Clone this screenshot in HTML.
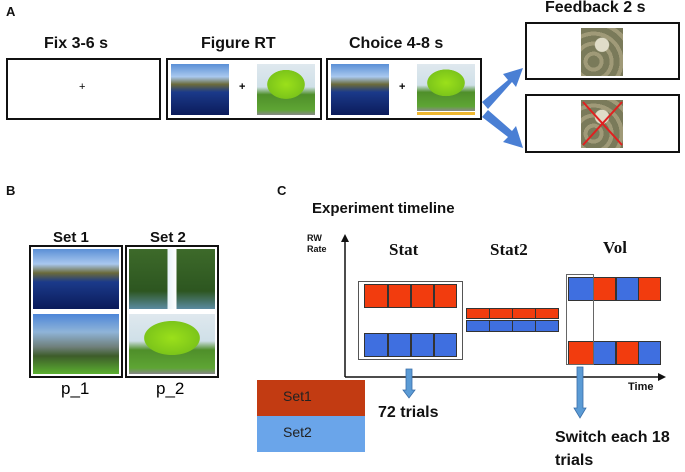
<!DOCTYPE html>
<html><head><meta charset="utf-8"><style>
body{margin:0;width:685px;height:469px;background:#fff;position:relative;overflow:hidden;font-family:"Liberation Sans",sans-serif}
div,span{position:absolute;box-sizing:border-box}
.t{font-weight:bold;color:#111;white-space:nowrap}
.box{border:2px solid #111;background:#fff}
.lake{background:linear-gradient(180deg,#5a8fd6 0%,#a9c8ee 25%,#6b6a3a 40%,#1b3a8a 55%,#0b1b5a 100%)}
.tree{background:radial-gradient(ellipse 40% 35% at 50% 40%,#9be01a 0%,#7cc51a 80%,transparent 82%),linear-gradient(180deg,#dfe8ee 0%,#cfe0e8 45%,#4f8f2a 60%,#5ea534 90%,#888 100%)}
.fall{background:linear-gradient(90deg,transparent 45%,#e8f2f8 45%,#fff 55%,transparent 55%),linear-gradient(180deg,#3d6a2a,#2d5620 70%,#5b8aa0 100%)}
.valley{background:linear-gradient(180deg,#4d86d8 0%,#8fb4d8 30%,#6f7f7a 55%,#3d5c2a 70%,#5bb030 100%)}
.coin{background:radial-gradient(circle at 50% 35%,#e0dcc8 0 18%,transparent 20%),repeating-radial-gradient(circle at 30% 70%,#7a7a5a 0 6px,#a09a78 6px 10px)}
.r{background:#f23c0e;border:1px solid #333}
.b{background:#3f6fe0;border:1px solid #333}
</style></head><body>
<div class="t" style="left:6px;top:4px;font-size:13px">A</div>
<div class="t" style="left:44px;top:35px;font-size:16px">Fix 3-6 s</div>
<div class="t" style="left:201px;top:35px;font-size:16px">Figure RT</div>
<div class="t" style="left:349px;top:35px;font-size:16px">Choice 4-8 s</div>
<div class="t" style="left:545px;top:-1px;font-size:16px">Feedback 2 s</div>
<div class="box" style="left:6px;top:58px;width:155px;height:62px"></div>
<div style="left:79px;top:81px;font-size:11px">+</div>
<div class="box" style="left:166px;top:58px;width:156px;height:62px"></div>
<div class="lake" style="left:171px;top:64px;width:58px;height:51px"></div>
<div style="left:239px;top:81px;font-size:11px;font-weight:bold">+</div>
<div class="tree" style="left:257px;top:64px;width:58px;height:51px"></div>
<div class="box" style="left:326px;top:58px;width:156px;height:62px"></div>
<div class="lake" style="left:331px;top:64px;width:58px;height:51px"></div>
<div style="left:399px;top:81px;font-size:11px;font-weight:bold">+</div>
<div class="tree" style="left:417px;top:64px;width:58px;height:47px"></div>
<div style="left:417px;top:112px;width:58px;height:3px;background:#f0b830"></div>
<div class="box" style="left:525px;top:22px;width:155px;height:58px"></div>
<div class="coin" style="left:581px;top:28px;width:42px;height:48px"></div>
<div class="box" style="left:525px;top:94px;width:155px;height:59px"></div>
<div class="coin" style="left:581px;top:100px;width:42px;height:48px"></div>
<svg style="position:absolute;left:0;top:0" width="685" height="469">
<line x1="583" y1="102" x2="622" y2="145" stroke="#e02020" stroke-width="2"/>
<line x1="622" y1="102" x2="583" y2="145" stroke="#e02020" stroke-width="2"/>
<polygon points="482,102 508,80 503,74 523,68 516,87 512,82 488,109" fill="#4a7fd4"/>
<polygon points="482,117 488,110 512,131 516,126 523,148 503,142 508,137" fill="#4a7fd4"/>
<line x1="345" y1="377" x2="345" y2="240" stroke="#111" stroke-width="1.5"/>
<polygon points="341,242 345,234 349,242" fill="#111"/>
<line x1="345" y1="377" x2="660" y2="377" stroke="#111" stroke-width="1.5"/>
<polygon points="658,373 666,377 658,381" fill="#111"/>
<polygon points="406,369 412,369 412,390 415,390 409,398 403,390 406,390" fill="#5b9bd5" stroke="#3a6ea8" stroke-width="0.8"/>
<polygon points="577,367 583,367 583,408 586,408 580,418 574,408 577,408" fill="#5b9bd5" stroke="#3a6ea8" stroke-width="0.8"/>
</svg>
<div class="t" style="left:6px;top:183px;font-size:13px">B</div>
<div class="t" style="left:53px;top:229px;font-size:15px">Set 1</div>
<div class="t" style="left:150px;top:229px;font-size:15px">Set 2</div>
<div class="box" style="left:29px;top:245px;width:94px;height:133px"></div>
<div class="box" style="left:125px;top:245px;width:94px;height:133px"></div>
<div class="lake" style="left:33px;top:249px;width:86px;height:60px"></div>
<div class="valley" style="left:33px;top:314px;width:86px;height:60px"></div>
<div class="fall" style="left:129px;top:249px;width:86px;height:60px"></div>
<div class="tree" style="left:129px;top:314px;width:86px;height:60px"></div>
<div style="left:61px;top:379px;font-size:17px">p_1</div>
<div style="left:156px;top:379px;font-size:17px">p_2</div>
<div class="t" style="left:277px;top:183px;font-size:13px">C</div>
<div class="t" style="left:312px;top:200px;font-size:15px">Experiment timeline</div>
<div class="t" style="left:307px;top:233px;font-size:9px;line-height:11px">RW<br>Rate</div>
<div class="t" style="left:389px;top:240px;font-size:17px;font-family:'Liberation Serif',serif">Stat</div>
<div class="t" style="left:490px;top:240px;font-size:17px;font-family:'Liberation Serif',serif">Stat2</div>
<div class="t" style="left:603px;top:238px;font-size:17px;font-family:'Liberation Serif',serif">Vol</div>
<div style="left:358px;top:281px;width:105px;height:79px;border:1px solid #555"></div>
<div class="r" style="left:364px;top:284px;width:24px;height:24px"></div><div class="r" style="left:388px;top:284px;width:23px;height:24px"></div><div class="r" style="left:411px;top:284px;width:23px;height:24px"></div><div class="r" style="left:434px;top:284px;width:23px;height:24px"></div>
<div class="b" style="left:364px;top:333px;width:24px;height:24px"></div><div class="b" style="left:388px;top:333px;width:23px;height:24px"></div><div class="b" style="left:411px;top:333px;width:23px;height:24px"></div><div class="b" style="left:434px;top:333px;width:23px;height:24px"></div>
<div class="r" style="left:466px;top:308px;width:24px;height:11px"></div><div class="r" style="left:489px;top:308px;width:24px;height:11px"></div><div class="r" style="left:512px;top:308px;width:24px;height:11px"></div><div class="r" style="left:535px;top:308px;width:24px;height:11px"></div>
<div class="b" style="left:466px;top:320px;width:24px;height:12px"></div><div class="b" style="left:489px;top:320px;width:24px;height:12px"></div><div class="b" style="left:512px;top:320px;width:24px;height:12px"></div><div class="b" style="left:535px;top:320px;width:24px;height:12px"></div>
<div class="b" style="left:568px;top:277px;width:26px;height:24px"></div><div class="r" style="left:593px;top:277px;width:23px;height:24px"></div><div class="b" style="left:616px;top:277px;width:23px;height:24px"></div><div class="r" style="left:638px;top:277px;width:23px;height:24px"></div>
<div class="r" style="left:568px;top:341px;width:26px;height:24px"></div><div class="b" style="left:593px;top:341px;width:23px;height:24px"></div><div class="r" style="left:616px;top:341px;width:23px;height:24px"></div><div class="b" style="left:638px;top:341px;width:23px;height:24px"></div>
<div style="left:566px;top:274px;width:28px;height:91px;border:1px solid #666"></div>
<div class="t" style="left:628px;top:381px;font-size:11px">Time</div>
<div style="left:257px;top:380px;width:108px;height:36px;background:#c23b12;color:#222;font-size:14px;padding:8px 0 0 26px">Set1</div>
<div style="left:257px;top:416px;width:108px;height:36px;background:#6aa5ea;color:#222;font-size:14px;padding:8px 0 0 26px">Set2</div>
<div class="t" style="left:378px;top:404px;font-size:16px">72 trials</div>
<div class="t" style="left:555px;top:426px;font-size:16px;line-height:23px">Switch each 18<br>trials</div>
</body></html>
